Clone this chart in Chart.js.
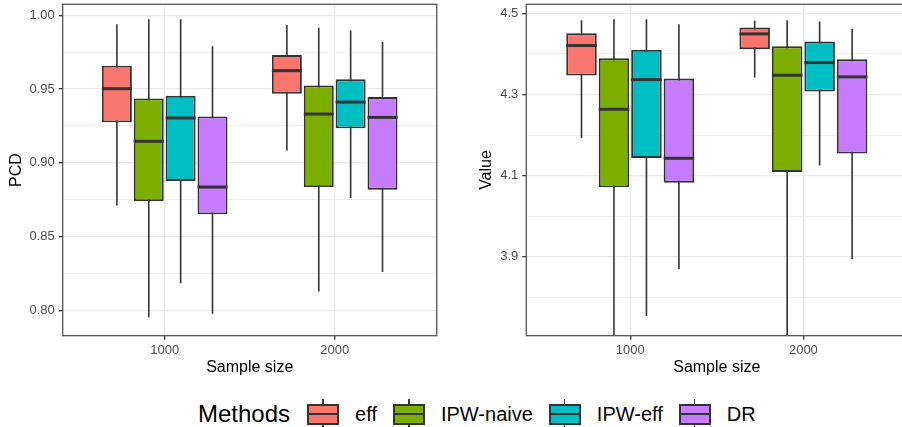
<!DOCTYPE html>
<html>
<head>
<meta charset="utf-8">
<script src="https://cdn.jsdelivr.net/npm/chart.js@4.4.0/dist/chart.umd.min.js"></script>
<style>
  html, body { margin: 0; padding: 0; background: #fff; overflow: hidden; }
  body { width: 902px; height: 427px; position: relative; font-family: "Liberation Sans", Arial, sans-serif; }
  #wrapPcd { position: absolute; left: 0; top: 0; width: 450px; height: 380px; }
  #wrapValue { position: absolute; left: 450px; top: 0; width: 470px; height: 380px; }
  #legend { position: absolute; left: 198px; top: 399px; height: 30px; display: flex; align-items: center; color: #000; }
  #legend .ttl { font-size: 24px; margin-right: 17px; }
  #legend .lbl { font-size: 20px; margin-right: 16px; }
  #legend .key { position: relative; width: 32px; height: 30px; margin-right: 16px; }
  #legend .key .wh { position: absolute; left: 15px; top: 0; width: 1.6px; height: 30px; background: #333; }
  #legend .key .box { position: absolute; left: 0; top: 4.5px; width: 32px; height: 21px; box-sizing: border-box; border: 2px solid #333; }
  #legend .key .med { position: absolute; left: 0; right: 0; top: 7.5px; height: 2px; background: #333; }
</style>
</head>
<body>
<div id="wrapPcd"><canvas id="pcd" width="450" height="380"></canvas></div>
<div id="wrapValue"><canvas id="value" width="470" height="380"></canvas></div>
<div id="legend"></div>
<script>
// categorias y metodos
const sampleSizes = ['1000', '2000'];
const methods = ['eff', 'IPW-naive', 'IPW-eff', 'DR'];
const methodColors = ['#F8766D', '#7CAE00', '#00BFC4', '#C77CFF'];

// [bigote inferior, Q1, mediana, Q3, bigote superior] por tamano de muestra
const pcdEff      = [[0.871, 0.9275, 0.9503, 0.9659, 0.9939], [0.9083, 0.9469, 0.9625, 0.9731, 0.9934]];
const pcdIpwNaive = [[0.7953, 0.8741, 0.9146, 0.9437, 0.9973], [0.8127, 0.8836, 0.9331, 0.9525, 0.9916]];
const pcdIpwEff   = [[0.8183, 0.8877, 0.9304, 0.9455, 0.9973], [0.8762, 0.9234, 0.9412, 0.9566, 0.9898]];
const pcdDr       = [[0.7977, 0.8651, 0.8836, 0.9315, 0.979], [0.826, 0.8818, 0.9308, 0.9446, 0.9821]];

const valueEff      = [[4.193, 4.3465, 4.4204, 4.4507, 4.4828], [4.3415, 4.4113, 4.4491, 4.4647, 4.4819]];
const valueIpwNaive = [[3.60, 4.0714, 4.2635, 4.3892, 4.4852], [3.60, 4.1092, 4.3473, 4.4187, 4.4828]];
const valueIpwEff   = [[3.7545, 4.1437, 4.3366, 4.4097, 4.4852], [4.1248, 4.3071, 4.3785, 4.4302, 4.4795]];
const valueDr       = [[3.8703, 4.0829, 4.1429, 4.3391, 4.4729], [3.8949, 4.1544, 4.3432, 4.3867, 4.4614]];

// ejes
const pcdRange = [0.7828, 1.0075];
const pcdTicks = [0.80, 0.85, 0.90, 0.95, 1.00];
const pcdMinor = [0.825, 0.875, 0.925, 0.975];
const valueRange = [3.706, 4.522];
const valueTicks = [3.9, 4.1, 4.3, 4.5];
const valueMinor = [3.8, 4.0, 4.2, 4.4];

Chart.defaults.font.family = '"Liberation Sans", Arial, sans-serif';

const dodgeWidth = 0.75;
const ink = '#333333';

function esMayor(v, majors) {
    return majors.some(m => Math.abs(m - v) < 1e-9);
}

// Plugin para bigotes, medianas y borde del panel
const boxPlugin = {
    id: 'boxStats',
    beforeDatasetsDraw(chart) {
        const { ctx, chartArea: a, scales: { y } } = chart;
        ctx.save();
        ctx.beginPath();
        ctx.rect(a.left, a.top, a.width, a.height);
        ctx.clip();
        ctx.strokeStyle = ink;
        ctx.lineWidth = 1.6;
        chart.data.datasets.forEach((ds, i) => {
            chart.getDatasetMeta(i).data.forEach((bar, j) => {
                const s = ds.stats[j];
                ctx.beginPath();
                ctx.moveTo(bar.x, y.getPixelForValue(s[0]));
                ctx.lineTo(bar.x, y.getPixelForValue(s[4]));
                ctx.stroke();
            });
        });
        ctx.restore();
    },
    afterDatasetsDraw(chart) {
        const { ctx, scales: { y } } = chart;
        ctx.save();
        ctx.strokeStyle = ink;
        ctx.lineWidth = 3;
        chart.data.datasets.forEach((ds, i) => {
            chart.getDatasetMeta(i).data.forEach((bar, j) => {
                const py = y.getPixelForValue(ds.stats[j][2]);
                ctx.beginPath();
                ctx.moveTo(bar.x - bar.width / 2, py);
                ctx.lineTo(bar.x + bar.width / 2, py);
                ctx.stroke();
            });
        });
        ctx.restore();
    },
    afterDraw(chart) {
        const { ctx, chartArea: a } = chart;
        ctx.save();
        ctx.strokeStyle = '#555555';
        ctx.lineWidth = 1.3;
        ctx.strokeRect(a.left, a.top, a.width, a.height);
        ctx.restore();
    }
};

function crearDatasets(stats) {
    return methods.map((m, i) => ({
        label: m,
        data: stats[i].map((s, j) => ({
            x: j + 1 + (i - (methods.length - 1) / 2) * dodgeWidth / methods.length,
            y: [s[1], s[3]]
        })),
        stats: stats[i],
        backgroundColor: methodColors[i],
        borderColor: ink,
        borderWidth: 1.9,
        borderSkipped: false,
        grouped: false,
        categoryPercentage: 1,
        barPercentage: 0.94
    }));
}

function crearGrafico(id, stats, cfg) {
    const majors = cfg.ticks;
    const todos = cfg.ticks.concat(cfg.minor).sort((a, b) => a - b);
    return new Chart(document.getElementById(id), {
        type: 'bar',
        data: { datasets: crearDatasets(stats) },
        plugins: [boxPlugin],
        options: {
            responsive: false,
            animation: false,
            layout: { padding: { top: 4.3, right: cfg.padRight, bottom: 0, left: 0 } },
            plugins: { legend: { display: false }, tooltip: { enabled: false } },
            scales: {
                x: {
                    type: 'linear',
                    min: 0.4,
                    max: 2.6,
                    offset: false,
                    bounds: 'data',
                    afterBuildTicks: s => { s.ticks = sampleSizes.map((_, i) => ({ value: i + 1 })); },
                    afterFit: s => { s.height = 44.3; s.paddingLeft = 0; s.paddingRight = 0; },
                    ticks: {
                        autoSkip: false,
                        maxRotation: 0,
                        padding: 3,
                        color: '#4D4D4D',
                        font: { size: 13 },
                        callback: v => sampleSizes[Math.round(v) - 1]
                    },
                    grid: { offset: false, color: '#EBEBEB', lineWidth: 1.3, tickLength: 4, tickColor: ink },
                    border: { display: false },
                    title: { display: true, text: 'Sample size', color: '#000', font: { size: 16 }, padding: { top: 0, bottom: 2.4 } }
                },
                y: {
                    type: 'linear',
                    min: cfg.range[0],
                    max: cfg.range[1],
                    bounds: 'data',
                    afterBuildTicks: s => { s.ticks = todos.map(v => ({ value: v })); },
                    afterFit: s => { s.width = cfg.axisWidth; s.paddingTop = 0; s.paddingBottom = 0; },
                    ticks: {
                        autoSkip: false,
                        padding: 4,
                        color: '#4D4D4D',
                        font: { size: 13 },
                        callback: v => esMayor(v, majors) ? v.toFixed(cfg.decimals) : ''
                    },
                    grid: {
                        color: '#EBEBEB',
                        lineWidth: c => esMayor(c.tick.value, majors) ? 1.3 : 0.7,
                        tickLength: 4,
                        tickColor: c => esMayor(c.tick.value, majors) ? ink : 'rgba(0,0,0,0)'
                    },
                    border: { display: false },
                    title: { display: true, text: cfg.title, color: '#000', font: { size: 16 }, padding: { top: cfg.titlePad, bottom: 0 } }
                }
            }
        }
    });
}

crearGrafico('pcd', [pcdEff, pcdIpwNaive, pcdIpwEff, pcdDr], {
    range: pcdRange, ticks: pcdTicks, minor: pcdMinor, decimals: 2,
    title: 'PCD', titlePad: 6.7, axisWidth: 62.7, padRight: 13.3
});

crearGrafico('value', [valueEff, valueIpwNaive, valueIpwEff, valueDr], {
    range: valueRange, ticks: valueTicks, minor: valueMinor, decimals: 1,
    title: 'Value', titlePad: 27, axisWidth: 76.3, padRight: 12.7
});

// Leyenda inferior
const leyenda = document.getElementById('legend');
const titulo = document.createElement('span');
titulo.className = 'ttl';
titulo.textContent = 'Methods';
leyenda.appendChild(titulo);
methods.forEach((m, i) => {
    const key = document.createElement('div');
    key.className = 'key';
    key.innerHTML = '<div class="wh"></div><div class="box" style="background:' + methodColors[i] + '"><div class="med"></div></div>';
    leyenda.appendChild(key);
    const lbl = document.createElement('span');
    lbl.className = 'lbl';
    lbl.textContent = m;
    leyenda.appendChild(lbl);
});
</script>
</body>
</html>
